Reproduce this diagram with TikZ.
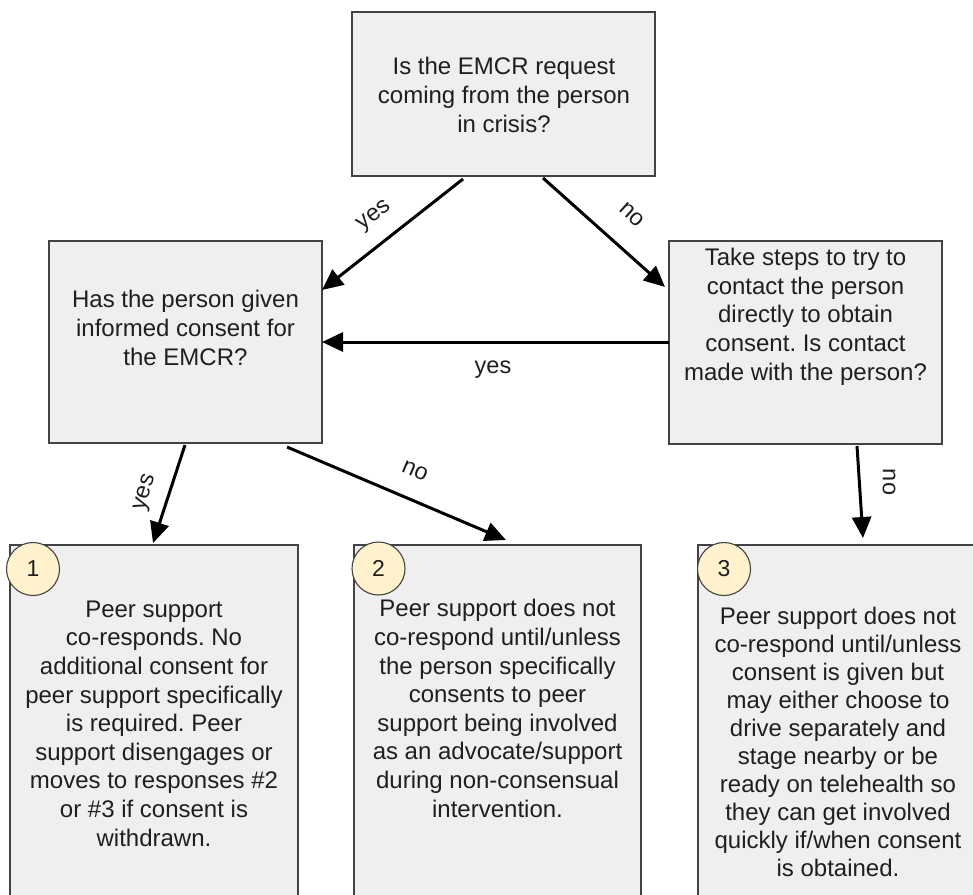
\documentclass[tikz,border=0pt]{standalone}
\usepackage{fontspec}
\setmainfont{Liberation Sans}
\usetikzlibrary{arrows.meta}
\frenchspacing
\definecolor{boxfill}{HTML}{EFEFEF}
\definecolor{boxline}{HTML}{434343}
\definecolor{numfill}{HTML}{FFF2CC}
\definecolor{txt}{HTML}{1F1F1F}
\tikzset{
  box/.style={draw=boxline, fill=boxfill, line width=1.3pt, rectangle, inner sep=0pt},
  btext/.style={align=center, anchor=base, inner sep=0pt, text=txt, font=\fontsize{24}{28.6}\selectfont},
  num/.style={circle, draw=boxline, fill=numfill, line width=1.1pt, minimum size=53pt, inner sep=0pt, text=txt, font=\fontsize{23}{26}\selectfont},
  conn/.style={line width=3pt, -{Triangle[length=21pt,width=19pt]}},
  lbl/.style={inner sep=0pt, text=txt, font=\fontsize{23.5}{26}\selectfont}
}
\begin{document}
\begin{tikzpicture}[x=1pt,y=-1pt]
\useasboundingbox (0,0) rectangle (973,894);
\clip (0,0) rectangle (973,894);
% boxes
\node[box, minimum width=303pt, minimum height=164pt] (q1) at (503.5,94) {};
\node[box, minimum width=273pt, minimum height=202pt] (q2) at (185.5,342) {};
\node[box, minimum width=273pt, minimum height=203pt] (q3) at (805.5,342.5) {};
\node[box, minimum width=288pt, minimum height=365pt] (r1) at (154,727.5) {};
\node[box, minimum width=287pt, minimum height=365pt] (r2) at (497.5,727.5) {};
\node[box, minimum width=282pt, minimum height=365pt] (r3) at (839,727.5) {};
% texts (anchored at the baseline of the last line)
\node[btext] (t1) at (504,132) {Is the EMCR request\\coming from the person\\in crisis?};
\node[btext] (t2) at (185.5,365) {Has the person given\\informed consent for\\the EMCR?};
\node[btext] (t3) at (805.5,380) {Take steps to try to\\contact the person\\directly to obtain\\consent. Is contact\\made with the person?};
\node[btext] (t4) at (154,846) {Peer support\\co-responds. No\\additional consent for\\peer support specifically\\is required. Peer\\support disengages or\\moves to responses \#2\\or \#3 if consent is\\withdrawn.};
\node[btext] (t5) at (497.5,817) {Peer support does not\\co-respond until/unless\\the person specifically\\consents to peer\\support being involved\\as an advocate/support\\during non-consensual\\intervention.};
\node[btext, font=\fontsize{24}{28}\selectfont] (t6) at (838,876) {Peer support does not\\co-respond until/unless\\consent is given but\\may either choose to\\drive separately and\\stage nearby or be\\ready on telehealth so\\they can get involved\\quickly if/when consent\\is obtained.};
% number circles
\node[num] (c1) at (33,569) {1};
\node[num] (c2) at (378.5,568.5) {2};
\node[num] (c3) at (724,569) {3};
% connector end points
\coordinate (a1s) at (463,179);
\coordinate (a1e) at (322,290);
\coordinate (a2s) at (543,178);
\coordinate (a2e) at (665,287);
\coordinate (a3s) at (669,342);
\coordinate (a3e) at (322,342);
\coordinate (a4s) at (185,445);
\coordinate (a4e) at (153,543);
\coordinate (a5s) at (287,447);
\coordinate (a5e) at (506,540);
\coordinate (a6s) at (857,446);
\coordinate (a6e) at (863,538);
\draw[conn] (a1s) -- (a1e);
\draw[conn] (a2s) -- (a2e);
\draw[conn] (a3s) -- (a3e);
\draw[conn] (a4s) -- (a4e);
\draw[conn] (a5s) -- (a5e);
\draw[conn] (a6s) -- (a6e);
% labels
\node[lbl, rotate=38] (l1) at (375,216) {yes};
\node[lbl, rotate=-42] (l2) at (632,215) {no};
\node[lbl] (l3) at (493,370) {yes};
\node[lbl, rotate=72] (l4) at (146,493) {yes};
\node[lbl, rotate=-23] (l5) at (415,471) {no};
\node[lbl, rotate=-90] (l6) at (889,482) {no};
\end{tikzpicture}
\end{document}
